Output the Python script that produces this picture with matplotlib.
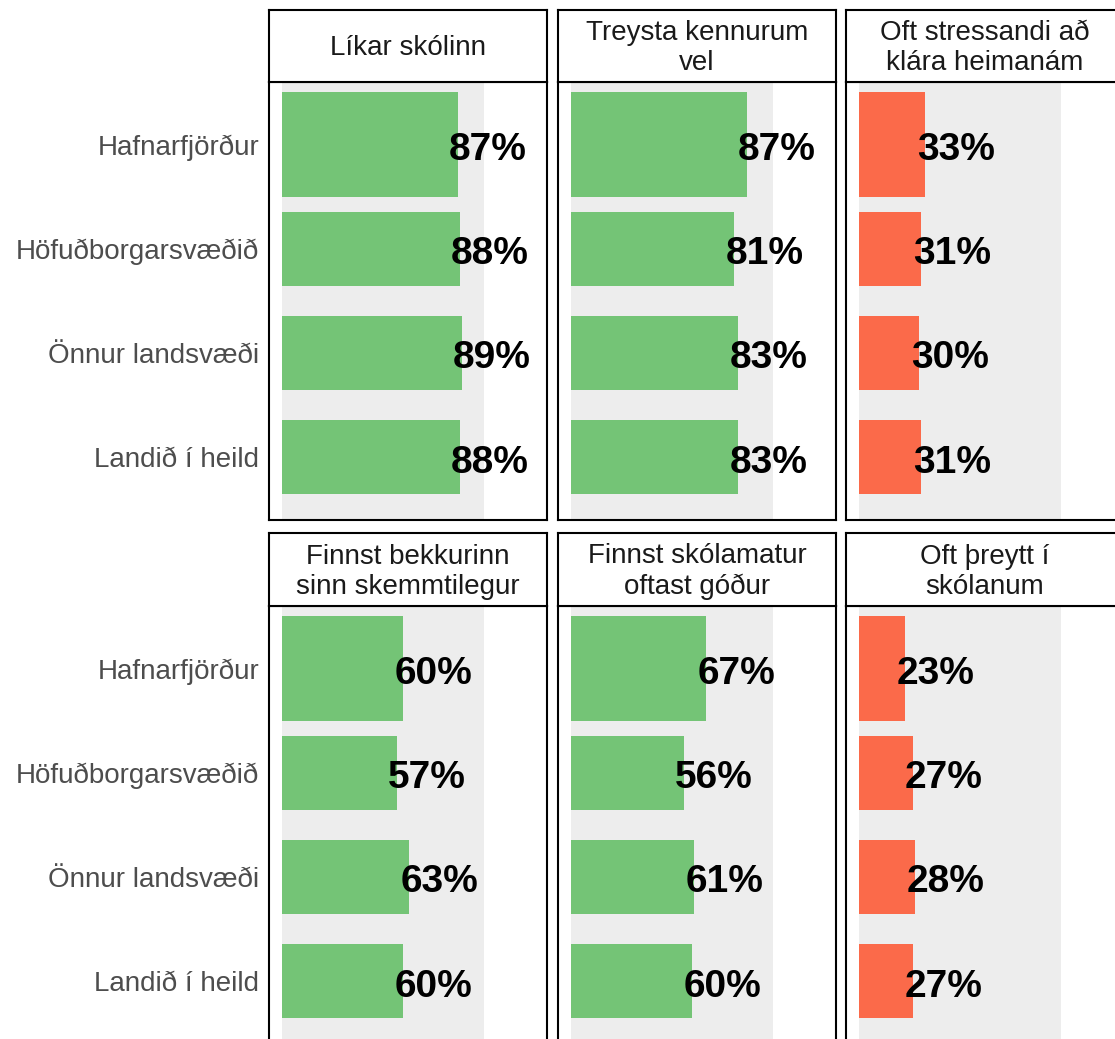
import matplotlib.pyplot as plt

plt.rcParams['font.family'] = ['Liberation Sans', 'DejaVu Sans']

areas = ["Hafnarfjörður", "Höfuðborgarsvæðið", "Önnur landsvæði", "Landið í heild"]

titles = [
    "Líkar skólinn",
    "Treysta kennurum\nvel",
    "Oft stressandi að\nklára heimanám",
    "Finnst bekkurinn\nsinn skemmtilegur",
    "Finnst skólamatur\noftast góður",
    "Oft þreytt í\nskólanum",
]

likar = [0.87, 0.88, 0.89, 0.88]
treysta = [0.87, 0.81, 0.83, 0.83]
stress = [0.33, 0.31, 0.30, 0.31]
bekkur = [0.60, 0.57, 0.63, 0.60]
matur = [0.67, 0.56, 0.61, 0.60]
threytt = [0.23, 0.27, 0.28, 0.27]

values = [likar, treysta, stress, bekkur, matur, threytt]
negative = [False, False, True, False, False, True]

green = "#74C476"
red = "#FB6A4A"
bg = "#EDEDED"

W, H = 1115, 1039
fig = plt.figure(figsize=(W / 100, H / 100), dpi=100)

col_x = [269, 558, 846]
panel_w = 278
row_strip = [(10, 82), (533, 606)]
panel_h = 438

ypos = [1, 2, 3, 4]
widths = [1.0, 0.71, 0.71, 0.71]

for i in range(6):
    r, c = divmod(i, 3)
    x0 = col_x[c]
    s_top, s_bot = row_strip[r]
    ax = fig.add_axes([x0 / W, 1 - (s_bot + panel_h) / H, panel_w / W, panel_h / H])
    ax.axvspan(0, 1, color=bg, lw=0, zorder=0)
    color = red if negative[i] else green
    ax.barh(ypos, values[i], height=widths, color=color, zorder=1)
    for y, v in zip(ypos, values[i]):
        ax.text(v + 0.15, y + 0.05, f"{round(v * 100)}%", ha='center', va='center',
                fontsize=28, fontweight='bold', color='black', zorder=2)
    ax.set_xlim(-0.0625, 1.3125)
    ax.set_ylim(4.6, 0.4)
    ax.set_xticks([])
    ax.set_yticks(ypos)
    if c == 0:
        ax.set_yticklabels(areas, fontsize=20, color="#4D4D4D")
        ax.tick_params(axis='y', length=0, pad=7)
    else:
        ax.set_yticklabels([])
        ax.tick_params(axis='y', length=0)
    for sp in ax.spines.values():
        sp.set_linewidth(1.5)
        sp.set_color('black')

    sax = fig.add_axes([x0 / W, 1 - s_bot / H, panel_w / W, (s_bot - s_top) / H])
    sax.set_xticks([])
    sax.set_yticks([])
    for sp in sax.spines.values():
        sp.set_linewidth(1.5)
        sp.set_color('black')
    sax.text(0.5, 0.47, titles[i], ha='center', va='center', fontsize=20,
             color='#1A1A1A', linespacing=1.2, transform=sax.transAxes)

fig.savefig("out.png", dpi=100)
